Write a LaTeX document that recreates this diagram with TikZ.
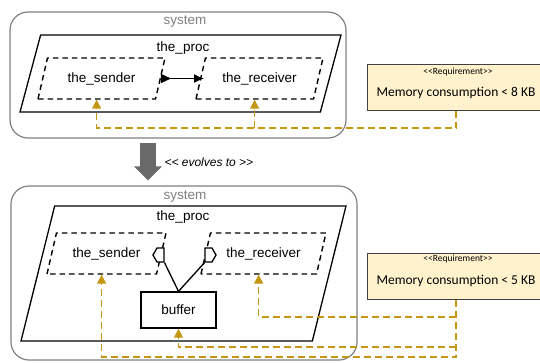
\documentclass[tikz,border=0pt]{standalone}
\usepackage{fontspec}
\setmainfont{Liberation Sans}
\newfontfamily\reqfont{Carlito}
\usetikzlibrary{arrows.meta,shapes.geometric,shapes.symbols}
\definecolor{tracegold}{RGB}{196,150,20}
\definecolor{reqfill}{RGB}{255,242,204}
\definecolor{sysgray}{RGB}{128,128,128}
\definecolor{evgray}{RGB}{105,105,105}

\begin{document}
\begin{tikzpicture}[x=1pt,y=-1pt,
	font=\fontsize{13.5}{16}\selectfont,
	sysbox/.style={draw=sysgray, line width=1.2pt, rounded corners=18pt, inner sep=0pt},
	procbox/.style={draw, line width=1.3pt, shape=trapezium, trapezium stretches body, inner xsep=0pt},
	partbox/.style={draw, dash pattern=on 5.5pt off 4pt, line width=1.4pt, shape=trapezium, trapezium stretches body, inner xsep=0pt, inner ysep=14pt,
		text height=10pt, text depth=3pt, trapezium left angle=77, trapezium right angle=103},
	port/.style={draw, line width=1.3pt, fill=white, shape=signal, signal from=nowhere, signal pointer angle=120, inner sep=0pt,
		minimum width=11pt, minimum height=14pt},
	reqbox/.style={draw=black!75, line width=1pt, fill=reqfill, minimum width=178pt, minimum height=46pt},
	reqtext/.style={font=\reqfont\fontsize{13.5}{16}\selectfont},
	reqtag/.style={font=\reqfont\fontsize{9.5}{11}\selectfont},
	trace/.style={draw=tracegold, line width=1.6pt, dash pattern=on 7pt off 4pt, -{Triangle[length=9pt,width=9pt]}},
	evolve/.style={draw=evgray, line width=16pt, -{Triangle[length=14pt,width=27pt]}}]
	\useasboundingbox (0,0) rectangle (540,362);

	\node (sys1) at (178,75) [sysbox, minimum width=336pt, minimum height=126pt] {};
	\node (lsys1) at (185,22) [text=sysgray] {system};
	\node (proc1) at (180.5,73.5) [procbox, minimum width=321pt, inner ysep=38.5pt, trapezium left angle=75, trapezium right angle=105] {};
	\node (lproc1) at (183,48) {the\_proc};
		\node (snd1) at (101.5,78.5) [partbox, minimum width=127pt] {the\_sender};
		\node (rcv1) at (259.5,78.5) [partbox, minimum width=127pt] {the\_receiver};
	\node (req1) at (456,87) [reqbox] {};
	\node (tag1) at (458,72) [reqtag] {<{}<Requirement>{}>};
	\node (txt1) at (456,93) [reqtext] {Memory consumption < 8 KB};

	\coordinate (ev) at (148,143);
	\node (lev) at (161,162) [anchor=west, font=\itshape\fontsize{12}{14}\selectfont] {<{}< evolves to >{}>};

	\node (sys2) at (184,273) [sysbox, minimum width=346pt, minimum height=174pt] {};
	\node (lsys2) at (185,197) [text=sysgray] {system};
	\node (proc2) at (183.5,273.5) [procbox, minimum width=325pt, inner ysep=67.5pt, trapezium left angle=76, trapezium right angle=104] {};
	\node (lproc2) at (183,217) {the\_proc};
		\node (snd2) at (106.5,253.5) [partbox, minimum width=119pt] {the\_sender};
		\node (rcv2) at (263.5,253.5) [partbox, minimum width=125pt] {the\_receiver};
			\node (prt1) at (160.5,255) [port, signal to=west] {};
			\node (prt2) at (208.5,255) [port, signal to=east] {};
			\node (buf) at (178.5,310) [draw, line width=1.3pt, minimum width=75pt, minimum height=36pt] {buffer};
	\node (req2) at (456,276) [reqbox] {};
	\node (tag2) at (458,259) [reqtag] {<{}<Requirement>{}>};
	\node (txt2) at (456,281) [reqtext] {Memory consumption < 5 KB};
	\coordinate (j1) at (rcv1.bottom side |- 0,128);
	\coordinate (j2) at (req2.south |- 0,317);
	\coordinate (j3) at (req2.south |- 0,347);

	\draw[line width=1.3pt, {Triangle[reversed,length=10pt,width=9pt]}-{Latex[length=10pt,width=9pt]}, shorten >=-4pt] (snd1.east) -- (rcv1.west);
	\draw[line width=1.3pt] (buf.north) -- ([xshift=4pt]prt1.south);
	\draw[line width=1.3pt] (buf.north) -- ([xshift=-4pt]prt2.south);
	\draw[evolve, shorten >=5pt] (ev) -- (ev |- sys2.north);
	\draw[trace] (req1.south) |- (snd1.bottom side |- 0,128) -- (snd1.bottom side);
	\draw[trace] (j1) -- (rcv1.bottom side);
	\draw[trace] (req2.south) |- (snd2.bottom side |- 0,357) -- (snd2.bottom side);
	\draw[trace] (j2) -| (rcv2.bottom side);
	\draw[trace] (j3) -| (buf.south);
\end{tikzpicture}
\end{document}
